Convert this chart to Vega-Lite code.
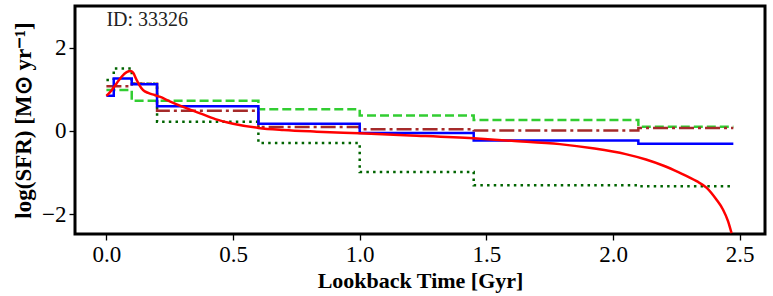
{
  "$schema": "https://vega.github.io/schema/vega-lite/v6.json",
  "width": 690,
  "height": 228,
  "autosize": "none",
  "padding": {"left": 75, "top": 6, "right": 8, "bottom": 62},
  "config": {
    "view": {"stroke": "black", "strokeWidth": 3},
    "font": "Liberation Serif",
    "axis": {
      "grid": false,
      "domain": false,
      "tickColor": "black",
      "tickWidth": 1.3,
      "tickSize": 6,
      "labelColor": "black",
      "labelFont": "Liberation Serif",
      "labelFontSize": 23,
      "titleFont": "Liberation Serif",
      "titleFontWeight": "bold",
      "titleColor": "black"
    }
  },
  "datasets": {
    "steps": [
      {"s": "blue", "t": 0, "v": 0.84},
      {"s": "blue", "t": 0.029, "v": 1.26},
      {"s": "blue", "t": 0.1, "v": 1.12},
      {"s": "blue", "t": 0.2, "v": 0.59},
      {"s": "blue", "t": 0.6, "v": 0.17},
      {"s": "blue", "t": 1.0, "v": -0.05},
      {"s": "blue", "t": 1.45, "v": -0.23},
      {"s": "blue", "t": 2.1, "v": -0.31},
      {"s": "blue", "t": 2.475, "v": -0.31},
      {"s": "brown", "t": 0, "v": 1.07},
      {"s": "brown", "t": 0.1, "v": 1.13},
      {"s": "brown", "t": 0.2, "v": 0.48},
      {"s": "brown", "t": 0.6, "v": 0.09},
      {"s": "brown", "t": 1.0, "v": 0.04},
      {"s": "brown", "t": 1.45, "v": 0.01},
      {"s": "brown", "t": 2.1, "v": 0.065},
      {"s": "brown", "t": 2.475, "v": 0.065},
      {"s": "green", "t": 0, "v": 0.98},
      {"s": "green", "t": 0.1, "v": 0.72},
      {"s": "green", "t": 0.6, "v": 0.52},
      {"s": "green", "t": 1.0, "v": 0.37},
      {"s": "green", "t": 1.45, "v": 0.26},
      {"s": "green", "t": 2.1, "v": 0.1},
      {"s": "green", "t": 2.475, "v": 0.1},
      {"s": "dark", "t": 0, "v": 1.22},
      {"s": "dark", "t": 0.029, "v": 1.5},
      {"s": "dark", "t": 0.1, "v": 1.13},
      {"s": "dark", "t": 0.2, "v": 0.22},
      {"s": "dark", "t": 0.6, "v": -0.29},
      {"s": "dark", "t": 1.0, "v": -0.99},
      {"s": "dark", "t": 1.45, "v": -1.31},
      {"s": "dark", "t": 2.1, "v": -1.33},
      {"s": "dark", "t": 2.475, "v": -1.33}
    ],
    "red": [
      {"t": 0, "v": 0.84},
      {"t": 0.02, "v": 0.97},
      {"t": 0.04, "v": 1.14},
      {"t": 0.06, "v": 1.3},
      {"t": 0.08, "v": 1.41},
      {"t": 0.095, "v": 1.44},
      {"t": 0.105, "v": 1.4},
      {"t": 0.118, "v": 1.24},
      {"t": 0.13, "v": 1.1},
      {"t": 0.145, "v": 0.98},
      {"t": 0.165, "v": 0.91},
      {"t": 0.19, "v": 0.86},
      {"t": 0.21, "v": 0.82},
      {"t": 0.25, "v": 0.71},
      {"t": 0.3, "v": 0.58},
      {"t": 0.37, "v": 0.42},
      {"t": 0.43, "v": 0.28},
      {"t": 0.5, "v": 0.17},
      {"t": 0.6, "v": 0.07},
      {"t": 0.7, "v": 0.02},
      {"t": 0.83, "v": -0.02},
      {"t": 1.0, "v": -0.06},
      {"t": 1.2, "v": -0.11},
      {"t": 1.45, "v": -0.18},
      {"t": 1.6, "v": -0.24},
      {"t": 1.79, "v": -0.32},
      {"t": 1.92, "v": -0.42},
      {"t": 2.05, "v": -0.56},
      {"t": 2.13, "v": -0.69},
      {"t": 2.2, "v": -0.84},
      {"t": 2.26, "v": -1.0},
      {"t": 2.33, "v": -1.21},
      {"t": 2.37, "v": -1.37},
      {"t": 2.408, "v": -1.65},
      {"t": 2.434, "v": -1.89},
      {"t": 2.454, "v": -2.17},
      {"t": 2.468, "v": -2.46}
    ],
    "label": [
      {"t": 0.0, "v": 2.66, "text": "ID: 33326"}
    ]
  },
  "encoding": {
    "x": {
      "field": "t", "type": "quantitative",
      "scale": {"domain": [-0.124, 2.6], "nice": false, "zero": false},
      "axis": {"values": [0, 0.5, 1, 1.5, 2, 2.5], "format": ".1f", "title": "Lookback Time [Gyr]", "titleFontSize": 22, "labelPadding": 3, "titlePadding": 4}
    },
    "y": {
      "field": "v", "type": "quantitative",
      "scale": {"domain": [-2.48, 3.0], "nice": false, "zero": false},
      "axis": {"values": [-2, 0, 2], "format": "d", "title": "log(SFR)  [M⊙ yr⁻¹]", "titleFontSize": 23, "labelPadding": 3, "titlePadding": 6}
    }
  },
  "layer": [
    {
      "data": {"name": "steps"},
      "transform": [{"filter": "datum.s === 'green'"}],
      "mark": {"type": "line", "interpolate": "step-after", "color": "#32cd32", "strokeWidth": 2.5, "strokeDash": [9, 4]}
    },
    {
      "data": {"name": "steps"},
      "transform": [{"filter": "datum.s === 'dark'"}],
      "mark": {"type": "line", "interpolate": "step-after", "color": "#006400", "strokeWidth": 2.5, "strokeDash": [2.5, 4.2]}
    },
    {
      "data": {"name": "steps"},
      "transform": [{"filter": "datum.s === 'brown'"}],
      "mark": {"type": "line", "interpolate": "step-after", "color": "#a52a2a", "strokeWidth": 2.5, "strokeDash": [15, 4, 3, 4]}
    },
    {
      "data": {"name": "steps"},
      "transform": [{"filter": "datum.s === 'blue'"}],
      "mark": {"type": "line", "interpolate": "step-after", "color": "#0000ff", "strokeWidth": 2.5}
    },
    {
      "data": {"name": "red"},
      "mark": {"type": "line", "interpolate": "monotone", "color": "#ff0000", "strokeWidth": 2.5}
    },
    {
      "data": {"name": "label"},
      "mark": {"type": "text", "align": "left", "baseline": "middle", "fontSize": 20, "font": "Liberation Serif", "color": "#222222"},
      "encoding": {"text": {"field": "text"}}
    }
  ]
}
